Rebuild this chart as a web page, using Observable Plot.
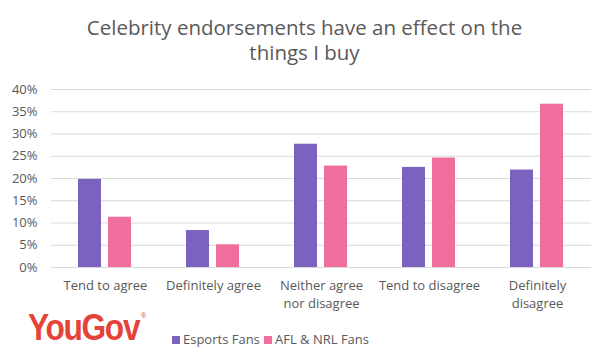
<!DOCTYPE html>
<html>
<head>
<meta charset="utf-8">
<script src="https://cdn.jsdelivr.net/npm/d3@7"></script>
<script src="https://cdn.jsdelivr.net/npm/@observablehq/plot@0.6"></script>
<style>
  body { margin: 0; background: #fff; width: 609px; height: 363px; overflow: hidden; position: relative; font-family: "Open Sans", "Liberation Sans", sans-serif; }
  .title { position: absolute; left: 0; width: 609px; text-align: center; color: #595959; font-size: 20.5px; line-height: 24px; white-space: nowrap; }
  #chart { position: absolute; left: 0; top: 70px; }
  #logo { position: absolute; left: 28px; top: 307px; color: #e5433a; font-family: "Liberation Sans", Arial, sans-serif; font-weight: bold; font-size: 36px; letter-spacing: -1.5px; transform-origin: left top; transform: scaleX(0.88); white-space: nowrap; }
  #logo sup { font-size: 8px; font-weight: normal; vertical-align: top; position: relative; top: 4px; left: 2px; }
  .leg { position: absolute; top: 330px; font-size: 13px; color: #595959; white-space: nowrap; line-height: 18px; }
  .sw { display: inline-block; width: 8px; height: 8px; margin-right: 3px; vertical-align: 0px; }
</style>
</head>
<body>
<div class="title" style="top:15px">Celebrity endorsements have an effect on the</div>
<div class="title" style="top:40px">things I buy</div>
<div id="chart"></div>
<div id="logo">YouGov<sup>®</sup></div>
<div class="leg" style="left:172px"><span class="sw" style="background:#7b62bf"></span>Esports Fans</div>
<div class="leg" style="left:264px"><span class="sw" style="background:#f06e9e"></span>AFL &amp; NRL Fans</div>
<script>
const categories = ["Tend to agree", "Definitely agree", "Neither agree nor disagree", "Tend to disagree", "Definitely disagree"];
const categoryLabels = ["Tend to agree", "Definitely agree", "Neither agree\nnor disagree", "Tend to disagree", "Definitely\ndisagree"];
const series = ["Esports Fans", "AFL & NRL Fans"];
const esportsFans = [19.8, 8.3, 27.7, 22.5, 21.9];
const aflNrlFans = [11.3, 5.1, 22.8, 24.6, 36.7];
const colors = ["#7b62bf", "#f06e9e"];
const yTicks = [0, 5, 10, 15, 20, 25, 30, 35, 40];

const data = [];
categories.forEach((c, i) => {
  data.push({category: c, series: series[0], value: esportsFans[i]});
  data.push({category: c, series: series[1], value: aflNrlFans[i]});
});
const labelOf = new Map(categories.map((c, i) => [c, categoryLabels[i]]));

const chart = Plot.plot({
  width: 609,
  height: 245,
  marginTop: 19,
  marginBottom: 48,
  marginLeft: 50,
  marginRight: 17,
  style: {fontFamily: "'Open Sans', 'Liberation Sans', sans-serif", fontSize: "13px", color: "#595959", background: "#fff"},
  fx: {domain: categories, padding: 0, axis: null},
  x: {domain: series, paddingInner: 0.226, paddingOuter: 0.86, axis: null},
  y: {domain: [0, 40], axis: null},
  color: {domain: series, range: colors},
  marks: [
    Plot.ruleY(yTicks, {stroke: "#d9d9d9", strokeWidth: 1}),
    Plot.barY(data, {fx: "category", x: "series", y: "value", fill: "series"}),
    Plot.axisY(yTicks, {tickSize: 0, tickPadding: 14, tickFormat: d => d + "%", fill: "#595959", fontSize: 13, label: null}),
    Plot.axisFx({anchor: "bottom", tickSize: 0, tickPadding: 10, tickFormat: d => labelOf.get(d), fill: "#595959", fontSize: 13, lineHeight: 1.38, label: null})
  ]
});
document.getElementById("chart").appendChild(chart);
</script>
</body>
</html>
